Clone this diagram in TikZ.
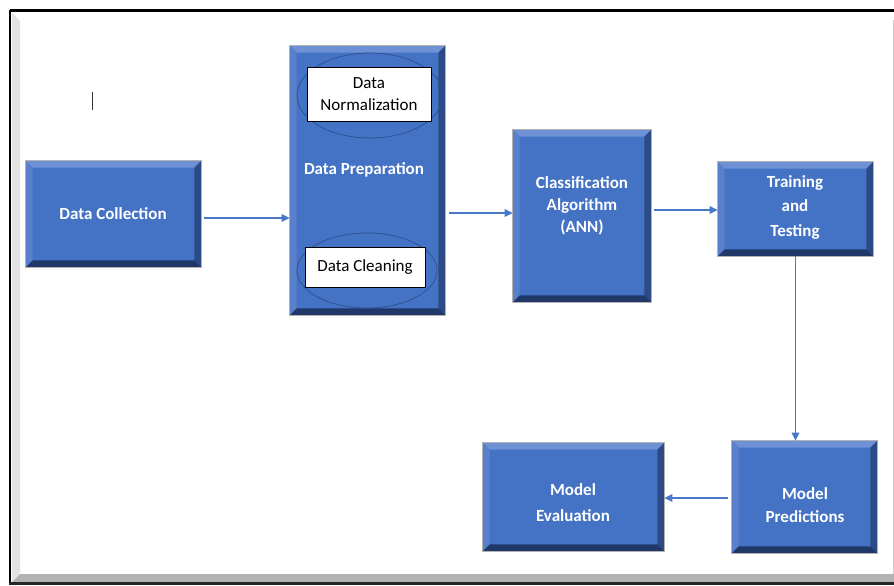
\documentclass[tikz,border=0pt]{standalone}
\usepackage{fontspec}
\setmainfont{Carlito}
\usetikzlibrary{calc,arrows.meta,shapes.geometric}

\definecolor{face}{HTML}{4472C4}
\definecolor{bevtop}{HTML}{6E91D5}
\definecolor{bevleft}{HTML}{5A80CC}
\definecolor{bevright}{HTML}{2B4A86}
\definecolor{bevbot}{HTML}{1F3868}
\definecolor{rim}{HTML}{2E4F8C}
\definecolor{link}{HTML}{4A78C8}

\tikzset{
  stage/.style={fill=face, draw=gray!70, line width=0.6pt, inner sep=0pt},
  stagetext/.style={text=white, font=\bfseries\fontsize{17}{24}\selectfont, align=center, inner sep=0pt},
  sub/.style={fill=white, draw=black, line width=0.9pt, inner sep=0pt,
              font=\fontsize{17}{22}\selectfont, align=center},
  ring/.style={ellipse, draw=rim, line width=0.7pt, inner sep=0pt},
  flow/.style={draw=link, line width=1.3pt, -{Triangle[length=8pt,width=7.5pt]}},
}

% bevelled edges of a stage box
\newcommand\bevelize[1]{%
  \fill[bevtop] (#1.north west) -- (#1.north east) -- ($(#1.north east)+(-7,7)$) -- ($(#1.north west)+(7,7)$) -- cycle;
  \fill[bevleft] (#1.north west) -- ($(#1.north west)+(7,7)$) -- ($(#1.south west)+(7,-7)$) -- (#1.south west) -- cycle;
  \fill[bevright] (#1.north east) -- ($(#1.north east)+(-7,7)$) -- ($(#1.south east)+(-7,-7)$) -- (#1.south east) -- cycle;
  \fill[bevbot] (#1.south west) -- ($(#1.south west)+(7,-7)$) -- ($(#1.south east)+(-7,-7)$) -- (#1.south east) -- cycle;
  \draw[gray!60, line width=0.6pt] (#1.north west) rectangle (#1.south east);
}

\begin{document}
\begin{tikzpicture}[x=1pt, y=-1pt]
  \useasboundingbox (0,0) rectangle (894,586);
  \fill[white] (0,0) rectangle (894,586);

  % page frame with shaded edges
  \fill[gray!22] (12,13) -- (20,21) -- (20,574) -- (12,582) -- cycle;
  \fill[gray!60] (12,582) -- (20,574) -- (894,574) -- (894,582) -- cycle;
  \draw[gray!40, line width=0.8pt] (893,20) -- (893,574);
  \draw[black, line width=3pt] (10,11) -- (894,11);
  \draw[black, line width=2.4pt] (10,10) -- (10,584);
  \draw[black!85, line width=2.2pt] (9,583.5) -- (894,583.5);

  % text cursor mark
  \draw[black!80, line width=1pt] (92,92) -- (92,110);

  % stage boxes
  \node[stage, minimum width=175pt, minimum height=106pt] (collect) at (113.5,214) {};
  \node[stage, minimum width=155pt, minimum height=269pt] (prep) at (367.5,180.5) {};
  \node[stage, minimum width=138pt, minimum height=172pt] (classify) at (582,216) {};
  \node[stage, minimum width=155pt, minimum height=94pt] (train) at (795.5,209) {};
  \node[stage, minimum width=181pt, minimum height=108pt] (evaluate) at (573.5,497) {};
  \node[stage, minimum width=145pt, minimum height=112pt] (predict) at (804.5,497) {};
  \bevelize{collect}
  \bevelize{prep}
  \bevelize{classify}
  \bevelize{train}
  \bevelize{evaluate}
  \bevelize{predict}

  % stage labels
  \node[stagetext] (collecttxt) at (113,214) {Data Collection};
  \node[stagetext] (preptxt) at (364,170) {Data Preparation};
  \node[stagetext, font=\bfseries\fontsize{17}{22}\selectfont] (classifytxt) at (582,206) {Classification\\Algorithm\\(ANN)};
  \node[stagetext, font=\bfseries\fontsize{17}{24.5}\selectfont] (traintxt) at (795,207) {Training\\and\\Testing};
  \node[stagetext, font=\bfseries\fontsize{17}{26}\selectfont] (evaluatetxt) at (573,503) {Model\\Evaluation};
  \node[stagetext, font=\bfseries\fontsize{17}{23}\selectfont] (predicttxt) at (805,505.5) {Model\\Predictions};

  % preparation sub-steps
  \node[ring, minimum width=146pt, minimum height=85pt] (normring) at (370,95.5) {};
  \node[ring, minimum width=140pt, minimum height=75pt] (cleanring) at (367,270.5) {};
  \node[sub, minimum width=124pt, minimum height=54pt] (norm) at (369,94) {Data\\Normalization};
  \node[sub, minimum width=120pt, minimum height=40pt] (clean) at (365,267) {Data Cleaning};

  % connectors
  \draw[flow] ($(collect.east)+(3,4)$) -- ($(prep.west)+(0,37.5)$);
  \draw[flow] ($(prep.east)+(4,32.5)$) -- ($(classify.west)+(0,-3)$);
  \draw[flow] ($(classify.east)+(3,-6)$) -- ($(train.west)+(0,1)$);
  \draw[flow] (train.south) -- (train.south |- predict.north);
  \draw[flow] ($(predict.west)+(-4,1)$) -- ($(evaluate.east)+(0,1)$);
\end{tikzpicture}
\end{document}
